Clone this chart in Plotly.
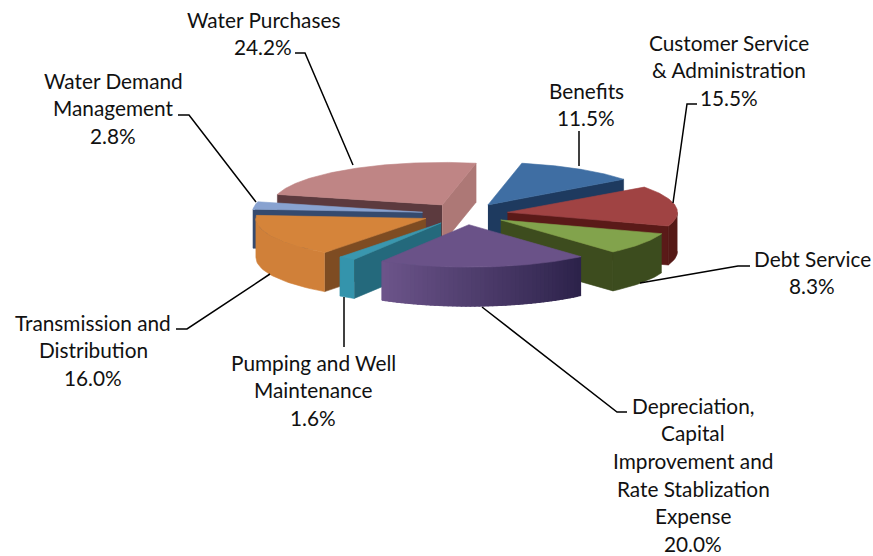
import numpy as np
import plotly.graph_objects as go

# ---- data ----
categories = ["Benefits", "Customer Service & Administration", "Debt Service",
              "Depreciation, Capital Improvement and Rate Stablization Expense",
              "Pumping and Well Maintenance", "Transmission and Distribution",
              "Water Demand Management", "Water Purchases"]
shares = [11.5, 15.5, 8.3, 20.0, 1.6, 16.0, 2.8, 24.2]
label_lines = [["Benefits"],
               ["Customer Service", "& Administration"],
               ["Debt Service"],
               ["Depreciation,", "Capital", "Improvement and", "Rate Stablization", "Expense"],
               ["Pumping and Well", "Maintenance"],
               ["Transmission and", "Distribution"],
               ["Water Demand", "Management"],
               ["Water Purchases"]]

# ---- styles and layout ----
top_colors = ["#3F6EA3", "#A04343", "#82A34C", "#6A5288", "#3A97AF", "#D5843A", "#88A2D0", "#BF8585"]
start_wall = ["#1E3A5F", "#5A1A18", "#3D4C1E", "#3A2C58", "#24697C", "#7E4C22", "#354A6E", "#5C3A3E"]
end_wall = ["#1E3A5F", "#5A1A18", "#3D4C1E", "#3A2C58", "#24697C", "#7E4C22", "#354A6E", "#AD7876"]
arc_from = [(30, 58, 95), (85, 25, 22), (60, 76, 30), (44, 34, 74), (52, 148, 172), (208, 128, 57), (70, 95, 140), (120, 80, 80)]
arc_to = [(30, 58, 95), (85, 25, 22), (60, 76, 30), (108, 84, 138), (52, 148, 172), (208, 128, 57), (70, 95, 140), (120, 80, 80)]
draw_order = [0, 7, 1, 6, 2, 5, 4, 3]

CX, CY = 465.0, 214.0
RADIUS, SQUASH, EXPLODE, DEPTH = 170.0, 0.25, 43.0, 39.0
FIRST_ANGLE = 11.5
FONT = "Lato, 'Open Sans', sans-serif"
FONT_SIZE = 20.8
LINE_PITCH = 27.7

label_anchor = [(586, 90), (729, 42), (812, 258), (693, 405), (313, 362), (93, 322), (113, 80), (263, 19)]
leaders = [[(579, 131), (579, 166)],
           [(697, 104), (687, 104), (673, 203)],
           [(750, 266), (738, 266), (640, 283)],
           [(627, 412), (617, 412), (482, 307)],
           [(344, 347), (344, 297)],
           [(176, 329), (187, 329), (270, 274)],
           [(178, 115), (189, 115), (256, 202)],
           [(295, 53), (305, 53), (353, 165)]]

fig = go.Figure()


def project(theta_deg, r, ox, oy, drop=0.0):
    t = np.radians(theta_deg)
    return ox + r * np.sin(t), oy - r * SQUASH * np.cos(t) + drop


def poly(xs, ys, color, name, width=0.6):
    fig.add_trace(go.Scatter(x=list(xs), y=list(ys), mode="lines", fill="toself", fillcolor=color,
                             line=dict(color=color, width=width), name=name, showlegend=False,
                             hoverinfo="name"))


sweeps = np.array(shares) / sum(shares) * 360.0
starts = FIRST_ANGLE + np.concatenate([[0], np.cumsum(sweeps)[:-1]])

for i in draw_order:
    a0, a1 = starts[i], starts[i] + sweeps[i]
    mid = (a0 + a1) / 2
    ox, oy = project(mid, EXPLODE, CX, CY)
    name = categories[i]

    # radial walls facing the viewer
    if np.sin(np.radians(a0)) < 0:
        px, py = project(a0, RADIUS, ox, oy)
        poly([ox, px, px, ox], [oy, py, py + DEPTH, oy + DEPTH], start_wall[i], name)
    if np.sin(np.radians(a1)) > 0:
        px, py = project(a1, RADIUS, ox, oy)
        poly([ox, px, px, ox], [oy, py, py + DEPTH, oy + DEPTH], end_wall[i], name)

    # outer rim, front half only
    lo, hi = max(a0, 90.0), min(a1, 270.0)
    if hi > lo:
        steps = 1 if arc_from[i] == arc_to[i] else int((hi - lo) / 1.5)
        edges = np.linspace(lo, hi, steps + 1)
        for k in range(steps):
            f = k / max(1, steps - 1)
            c = [round(arc_from[i][n] + (arc_to[i][n] - arc_from[i][n]) * f) for n in range(3)]
            # each strip runs under the next one, so no seam shows between them
            seg = np.linspace(edges[k], hi if steps == 1 else min(hi, edges[k + 1] + 2.0),
                              max(4, int((hi - lo) / 2) if steps == 1 else 4))
            xt, yt = project(seg, RADIUS, ox, oy)
            xb, yb = project(seg[::-1], RADIUS, ox, oy, DEPTH)
            poly(np.r_[xt, xb], np.r_[yt, yb], f"rgb({c[0]},{c[1]},{c[2]})", name)

    # top face
    arc = np.linspace(a0, a1, max(6, int(sweeps[i] * 1.5)))
    xt, yt = project(arc, RADIUS, ox, oy)
    poly(np.r_[ox, xt, ox], np.r_[oy, yt, oy], top_colors[i], name)

# leader lines
for pts in leaders:
    fig.add_trace(go.Scatter(x=[p[0] for p in pts], y=[p[1] for p in pts], mode="lines",
                             line=dict(color="#000000", width=1.5), showlegend=False, hoverinfo="skip"))

# labels
annotations = []
for i, lines in enumerate(label_lines):
    x0, y0 = label_anchor[i]
    rows = lines + [f"{shares[i]:.1f}%"]
    for j, row in enumerate(rows):
        annotations.append(dict(x=x0, y=y0 + j * LINE_PITCH, text=row, showarrow=False, xref="x", yref="y",
                                xanchor="center", yanchor="middle",
                                font=dict(family=FONT, size=FONT_SIZE, color="#111111")))

fig.update_layout(width=873, height=556, margin=dict(l=0, r=0, t=0, b=0),
                  paper_bgcolor="white", plot_bgcolor="white", showlegend=False,
                  annotations=annotations,
                  xaxis=dict(range=[0, 873], visible=False, fixedrange=True),
                  yaxis=dict(range=[556, 0], visible=False, fixedrange=True))
fig.write_html("out.html", config={"displayModeBar": False},
               post_script="document.body.style.margin='0';document.body.style.overflow='hidden';")
